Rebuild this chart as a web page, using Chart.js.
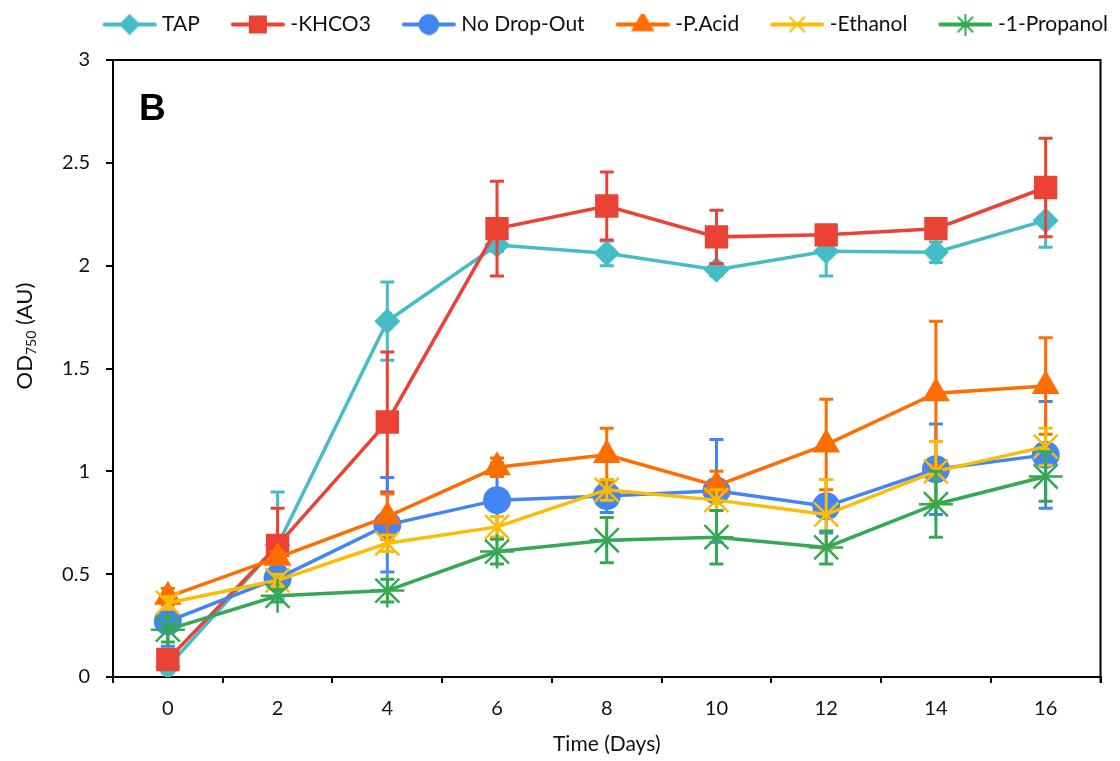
<!DOCTYPE html>
<html>
<head>
<meta charset="utf-8">
<script src="https://cdn.jsdelivr.net/npm/chart.js@4.4.0/dist/chart.umd.min.js"></script>
<style>
html,body{margin:0;padding:0;background:#fff;}
#wrap{width:1120px;height:761px;}
</style>
</head>
<body>
<div id="wrap"><canvas id="chart" width="1120" height="761"></canvas></div>
<script>
// ─── DATA ───────────────────────────────────────────────────────────
const days = ['0','2','4','6','8','10','12','14','16'];

const tap        = [0.05, 0.64, 1.73, 2.10, 2.06, 1.98, 2.07, 2.065, 2.22];
const tapErr     = [0.03, 0.26, 0.19, 0.03, 0.06, 0.03, 0.12, 0.05, 0.13];
const khco3      = [0.085, 0.64, 1.24, 2.18, 2.29, 2.14, 2.15, 2.18, 2.38];
const khco3Err   = [0.03, 0.18, 0.34, 0.23, 0.165, 0.13, 0.02, 0.02, 0.24];
const noDrop     = [0.27, 0.48, 0.74, 0.86, 0.88, 0.905, 0.83, 1.01, 1.08];
const noDropErr  = [0.12, 0.05, 0.23, 0.18, 0.08, 0.25, 0.13, 0.22, 0.26];
const pAcid      = [0.39, 0.58, 0.78, 1.02, 1.08, 0.93, 1.13, 1.38, 1.415];
const pAcidErr   = [0.04, 0.03, 0.11, 0.045, 0.13, 0.07, 0.22, 0.35, 0.235];
const ethanol    = [0.36, 0.47, 0.65, 0.73, 0.91, 0.86, 0.79, 1.00, 1.12];
const ethanolErr = [0.03, 0.03, 0.04, 0.05, 0.05, 0.05, 0.17, 0.145, 0.09];
const propanol   = [0.23, 0.395, 0.42, 0.61, 0.665, 0.68, 0.63, 0.84, 0.975];
const propanolErr= [0.06, 0.03, 0.055, 0.06, 0.11, 0.13, 0.08, 0.16, 0.12];

const yTicks = [0, 0.5, 1, 1.5, 2, 2.5, 3];

// ─── STYLE ──────────────────────────────────────────────────────────
const FONT = 'Lato';
const SERIES = [
  {name:'TAP',          values:tap,      err:tapErr,      color:'#46BDC6', marker:'rectRot',  r:13},
  {name:'-KHCO3',       values:khco3,    err:khco3Err,    color:'#EA4335', marker:'rect',     r:16.5},
  {name:'No Drop-Out',  values:noDrop,   err:noDropErr,   color:'#4285F4', marker:'circle',   r:14},
  {name:'-P.Acid',      values:pAcid,    err:pAcidErr,    color:'#FF6D01', marker:'triangle', r:16},
  {name:'-Ethanol',     values:ethanol,  err:ethanolErr,  color:'#FBBC04', marker:'crossRot', r:17},
  {name:'-1-Propanol',  values:propanol, err:propanolErr, color:'#34A853', marker:'star',     r:17},
];
const isStroke = m => m==='crossRot' || m==='star' || m==='cross';

// legend icon: line with small marker in the middle (Excel style)
// canvas is wider than the legend box so the line sits close to the text
function legendIcon(s){
  const c = document.createElement('canvas');
  c.width = 78; c.height = 22;
  const g = c.getContext('2d');
  g.strokeStyle = s.color; g.fillStyle = s.color;
  g.lineWidth = 4; g.lineCap = 'round';
  g.beginPath(); g.moveTo(26, 11); g.lineTo(76, 11); g.stroke();
  g.lineWidth = isStroke(s.marker) ? 2 : 0;
  Chart.helpers.drawPoint(g, {pointStyle:s.marker, radius:s.r*0.6, rotation:0, borderWidth:g.lineWidth}, 51, 11);
  return c;
}

// ─── PLUGINS ────────────────────────────────────────────────────────
const errorBars = {
  id:'errorBars',
  beforeDatasetDraw(chart, args){
    const ds = chart.data.datasets[args.index];
    const ys = chart.scales.y, ctx = chart.ctx;
    ctx.save();
    ctx.strokeStyle = ds.borderColor;
    ctx.lineWidth = 3;
    args.meta.data.forEach((pt,i)=>{
      const e = ds.errors[i]; if(!e) return;
      const v = ds.data[i];
      const top = ys.getPixelForValue(v+e), bot = ys.getPixelForValue(v-e);
      ctx.beginPath();
      ctx.moveTo(pt.x, top); ctx.lineTo(pt.x, bot);
      ctx.moveTo(pt.x-7, top); ctx.lineTo(pt.x+7, top);
      ctx.moveTo(pt.x-7, bot); ctx.lineTo(pt.x+7, bot);
      ctx.stroke();
    });
    ctx.restore();
  }
};

const frame = {
  id:'frame',
  afterInit(chart){
    // reserve extra room under the legend row
    const fit = chart.legend.fit;
    chart.legend.fit = function(){ fit.call(this); this.height = 58; };
  },
  beforeDatasetsDraw(chart){
    const {ctx, chartArea:a} = chart;
    ctx.save();
    ctx.strokeStyle = '#000'; ctx.lineWidth = 2;
    ctx.beginPath();
    ctx.moveTo(a.left, a.top); ctx.lineTo(a.right, a.top); ctx.lineTo(a.right, a.bottom+6);
    ctx.stroke();
    ctx.restore();
  },
  afterDraw(chart){
    const ctx = chart.ctx;
    ctx.save();
    ctx.fillStyle = '#000';
    ctx.font = 'bold 37px "Liberation Sans", Arial, sans-serif';
    ctx.textBaseline = 'alphabetic';
    ctx.fillText('B', 139, 120);
    // y axis title with subscript
    ctx.translate(32, 336);
    ctx.rotate(-Math.PI/2);
    const big = '22px '+FONT, small = '14px '+FONT;
    ctx.font = big; const w1 = ctx.measureText('OD').width, w3 = ctx.measureText(' (AU)').width;
    ctx.font = small; const w2 = ctx.measureText('750').width;
    let x = -(w1+w2+w3)/2;
    ctx.fillStyle = '#111';
    ctx.font = big; ctx.fillText('OD', x, 0); x += w1;
    ctx.font = small; ctx.fillText('750', x, 4); x += w2;
    ctx.font = big; ctx.fillText(' (AU)', x, 0);
    ctx.restore();
  }
};

// ─── CHART ──────────────────────────────────────────────────────────
const icons = SERIES.map(legendIcon);

new Chart(document.getElementById('chart'), {
  type:'line',
  data:{
    labels: days,
    datasets: SERIES.map((s,i)=>({
      label: s.name,
      data: s.values,
      errors: s.err,
      borderColor: s.color,
      backgroundColor: s.color,
      pointBackgroundColor: s.color,
      pointBorderColor: s.color,
      pointStyle: s.marker,
      pointRadius: s.r,
      pointHoverRadius: s.r,
      pointBorderWidth: isStroke(s.marker) ? 2.5 : 0,
      borderWidth: 3.5,
      tension: 0,
      order: -i
    }))
  },
  options:{
    responsive:false,
    animation:false,
    layout:{padding:{top:2, right:0, left:0, bottom:0}},
    plugins:{
      tooltip:{enabled:false},
      legend:{
        position:'top',
        align:'end',
        labels:{
          usePointStyle:true,
          pointStyleWidth:68,
          padding:12,
          color:'#111',
          font:{family:FONT, size:21},
          sort:(a,b)=>a.datasetIndex-b.datasetIndex,
          generateLabels(chart){
            const items = Chart.defaults.plugins.legend.labels.generateLabels(chart);
            items.forEach(it=>{ it.pointStyle = icons[it.datasetIndex]; });
            return items;
          }
        }
      }
    },
    scales:{
      x:{
        type:'category',
        offset:true,
        afterFit: s => { s.height = 84; },
        grid:{drawOnChartArea:false, offset:true, color:'#000', lineWidth:2, tickLength:6},
        border:{color:'#000', width:2},
        ticks:{color:'#111', font:{family:FONT, size:20}, padding:14, maxRotation:0},
        title:{display:true, text:'Time (Days)', color:'#111', font:{family:FONT, size:21}, padding:{top:4, bottom:4}}
      },
      y:{
        min:0, max:3,
        afterFit: s => { s.width = 113; },
        afterBuildTicks: s => { s.ticks = yTicks.map(v=>({value:v})); },
        grid:{drawOnChartArea:false, color:'#000', lineWidth:2, tickLength:7},
        border:{color:'#000', width:2},
        ticks:{color:'#111', font:{family:FONT, size:20}, padding:16, callback: v => String(v)}
      },
      // empty right-hand strip so the plot stops short of the canvas edge
      yRight:{
        position:'right',
        grid:{display:false},
        border:{display:false},
        ticks:{display:false},
        afterFit: s => { s.width = 13; }
      }
    }
  },
  plugins:[errorBars, frame]
});
</script>
</body>
</html>
